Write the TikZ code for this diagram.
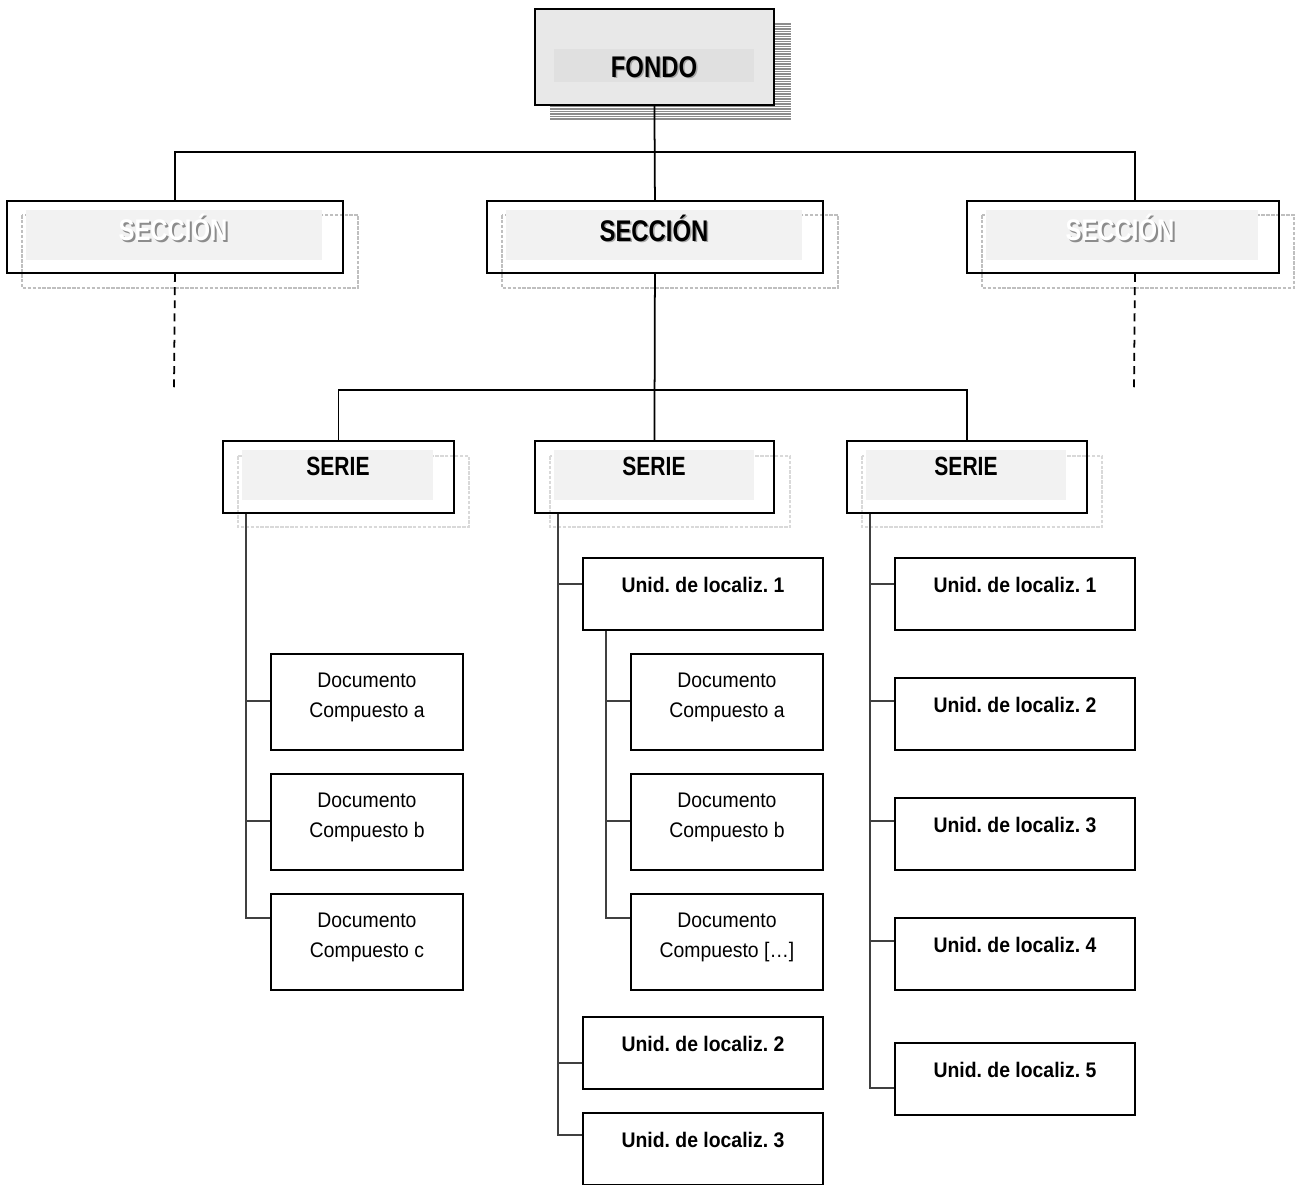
\documentclass[tikz,border=0pt]{standalone}
\usepackage{fontspec}
\setmainfont{Liberation Sans}[FakeStretch=0.92]
\newfontfamily\headfont[FakeStretch=0.8]{Liberation Sans}
\usetikzlibrary{positioning,calc,backgrounds}
\frenchspacing
\tikzset{
    box/.style={draw, line width=1.1pt, anchor=north west, inner sep=0pt, minimum height=1.44cm},
    unitbox/.style={box, minimum width=4.8cm, font=\bfseries\fontsize{12}{14}\selectfont, text height=8.6pt, text depth=10pt},
    docbox/.style={box, minimum width=3.84cm, minimum height=1.92cm, align=center, font=\fontsize{12}{17}\selectfont, text depth=8pt},
    ghost/.style={draw=black!25, line width=0.6pt, dash pattern=on 2pt off 0.8pt},
    patch/.style={fill=black!5},
    stripe/.style={draw=black!45, line width=0.6pt},
    line/.style={draw, line width=1pt},
    dashline/.style={draw, line width=1pt, dash pattern=on 4.5pt off 3pt},
    branch/.style={draw=black!75, line width=0.6pt},
    headtext/.style={font=\headfont\bfseries\fontsize{17}{20}\selectfont, inner sep=0pt},
    serietext/.style={font=\headfont\bfseries\fontsize{15}{18}\selectfont, inner sep=0pt}
}

\begin{document}
\begin{tikzpicture}[x=0.02cm, y=-0.02cm]
    \useasboundingbox (0,0) rectangle (1295,1184);

    % fondo
    \node [box, fill=black!9, minimum width=4.78cm, minimum height=1.92cm] (fondo) at (534,8) {};
    \fill [black!12] (554,49) rectangle (754,82);
    \node [headtext, text=black!35] (fondosh) at (655.5,68.5) {FONDO};
    \node [headtext] (fondotxt) at (654,67) {FONDO};

    % secciones
    \node [box, minimum width=6.72cm] (sec1) at (6,200) {};
    \node [box, minimum width=6.72cm] (sec2) at (486,200) {};
    \node [box, minimum width=6.24cm] (sec3) at (966,200) {};
    \node [headtext, text=black!45] (sec1sh) at (175,229) {SECCIÓN};
    \node [headtext, text=white] (sec1txt) at (173,227) {SECCIÓN};
    \node [headtext, text=black!35] (sec2sh) at (655.5,229.5) {SECCIÓN};
    \node [headtext] (sec2txt) at (654,228) {SECCIÓN};
    \node [headtext, text=black!45] (sec3sh) at (1122,229) {SECCIÓN};
    \node [headtext, text=white] (sec3txt) at (1120,227) {SECCIÓN};

    % series
    \node [box, minimum width=4.62cm] (ser1) at (222,440) {};
    \node [box, minimum width=4.78cm] (ser2) at (534,440) {};
    \node [box, minimum width=4.8cm] (ser3) at (846,440) {};
    \node [serietext] (ser1txt) at (338,466) {SERIE};
    \node [serietext] (ser2txt) at (654,466) {SERIE};
    \node [serietext] (ser3txt) at (966,466) {SERIE};

    % unidades y documentos
    \node [docbox] (doca1) at (270,653) {Documento\\Compuesto a};
    \node [docbox] (docb1) at (270,773) {Documento\\Compuesto b};
    \node [docbox] (docc1) at (270,893) {Documento\\Compuesto c};
    \node [unitbox] (unit1) at (582,557) {Unid. de localiz. 1};
    \node [docbox] (doca2) at (630,653) {Documento\\Compuesto a};
    \node [docbox] (docb2) at (630,773) {Documento\\Compuesto b};
    \node [docbox] (docc2) at (630,893) {Documento\\Compuesto […]};
    \node [unitbox] (unit2) at (582,1016) {Unid. de localiz. 2};
    \node [unitbox] (unit3) at (582,1112) {Unid. de localiz. 3};
    \node [unitbox] (loc1) at (894,557) {Unid. de localiz. 1};
    \node [unitbox] (loc2) at (894,677) {Unid. de localiz. 2};
    \node [unitbox] (loc3) at (894,797) {Unid. de localiz. 3};
    \node [unitbox] (loc4) at (894,917) {Unid. de localiz. 4};
    \node [unitbox] (loc5) at (894,1042) {Unid. de localiz. 5};

    \begin{scope}[on background layer]
        \foreach \y in {24,26.5,...,120}
            \draw [stripe] (550,\y) -- (791,\y);
        \draw [ghost] (22,215) rectangle (358,288);
        \fill [patch] (26,210) rectangle (322,260);
        \draw [ghost] (502,215) rectangle (838,288);
        \fill [patch] (506,210) rectangle (802,260);
        \draw [ghost] (982,215) rectangle (1294,288);
        \fill [patch] (986,210) rectangle (1258,260);
        \draw [ghost, draw=black!15] (238,456) rectangle (469,527);
        \fill [patch] (242,450) rectangle (433,500);
        \draw [ghost, draw=black!15] (550,456) rectangle (790,527);
        \fill [patch] (554,450) rectangle (754,500);
        \draw [ghost, draw=black!15] (862,456) rectangle (1102,527);
        \fill [patch] (866,450) rectangle (1066,500);
    \end{scope}

    % connectors
    \coordinate (top) at (654,152);
    \coordinate (sec3in) at ([shift={(12,0)}]sec3.north);
    \coordinate (more1) at (174,388);
    \coordinate (more3) at (1134,388);
    \coordinate (mid) at (654,390);
    \path [line] (fondo.south) -- (sec2.north);
    \path [line] (sec1.north) |- (top) -| (sec3in);
    \path [dashline] (sec1.south) -- (more1);
    \path [dashline] (sec3in |- sec3.south) -- (more3);
    \path [line] (sec2.south) -- (ser2.north);
    \path [line] (ser1.north) |- (mid) -| (ser3.north);

    \coordinate (tree1) at ([shift={(24,0)}]ser1.south west);
    \coordinate (tree2) at ([shift={(24,0)}]ser2.south west);
    \coordinate (tree3) at ([shift={(24,0)}]unit1.south west);
    \coordinate (tree4) at ([shift={(24,0)}]ser3.south west);
    \path [branch] (tree1) |- ([shift={(0,48)}]doca1.north west);
    \path [branch] (tree1) |- ([shift={(0,48)}]docb1.north west);
    \path [branch] (tree1) |- ([shift={(0,25)}]docc1.north west);
    \path [branch] (tree2) |- ([shift={(0,27)}]unit1.north west);
    \path [branch] (tree2) |- ([shift={(0,47)}]unit2.north west);
    \path [branch] (tree2) |- ([shift={(0,23)}]unit3.north west);
    \path [branch] (tree3) |- ([shift={(0,48)}]doca2.north west);
    \path [branch] (tree3) |- ([shift={(0,48)}]docb2.north west);
    \path [branch] (tree3) |- ([shift={(0,25)}]docc2.north west);
    \path [branch] (tree4) |- ([shift={(0,27)}]loc1.north west);
    \path [branch] (tree4) |- ([shift={(0,24)}]loc2.north west);
    \path [branch] (tree4) |- ([shift={(0,24)}]loc3.north west);
    \path [branch] (tree4) |- ([shift={(0,24)}]loc4.north west);
    \path [branch] (tree4) |- ([shift={(0,46)}]loc5.north west);
\end{tikzpicture}
\end{document}
